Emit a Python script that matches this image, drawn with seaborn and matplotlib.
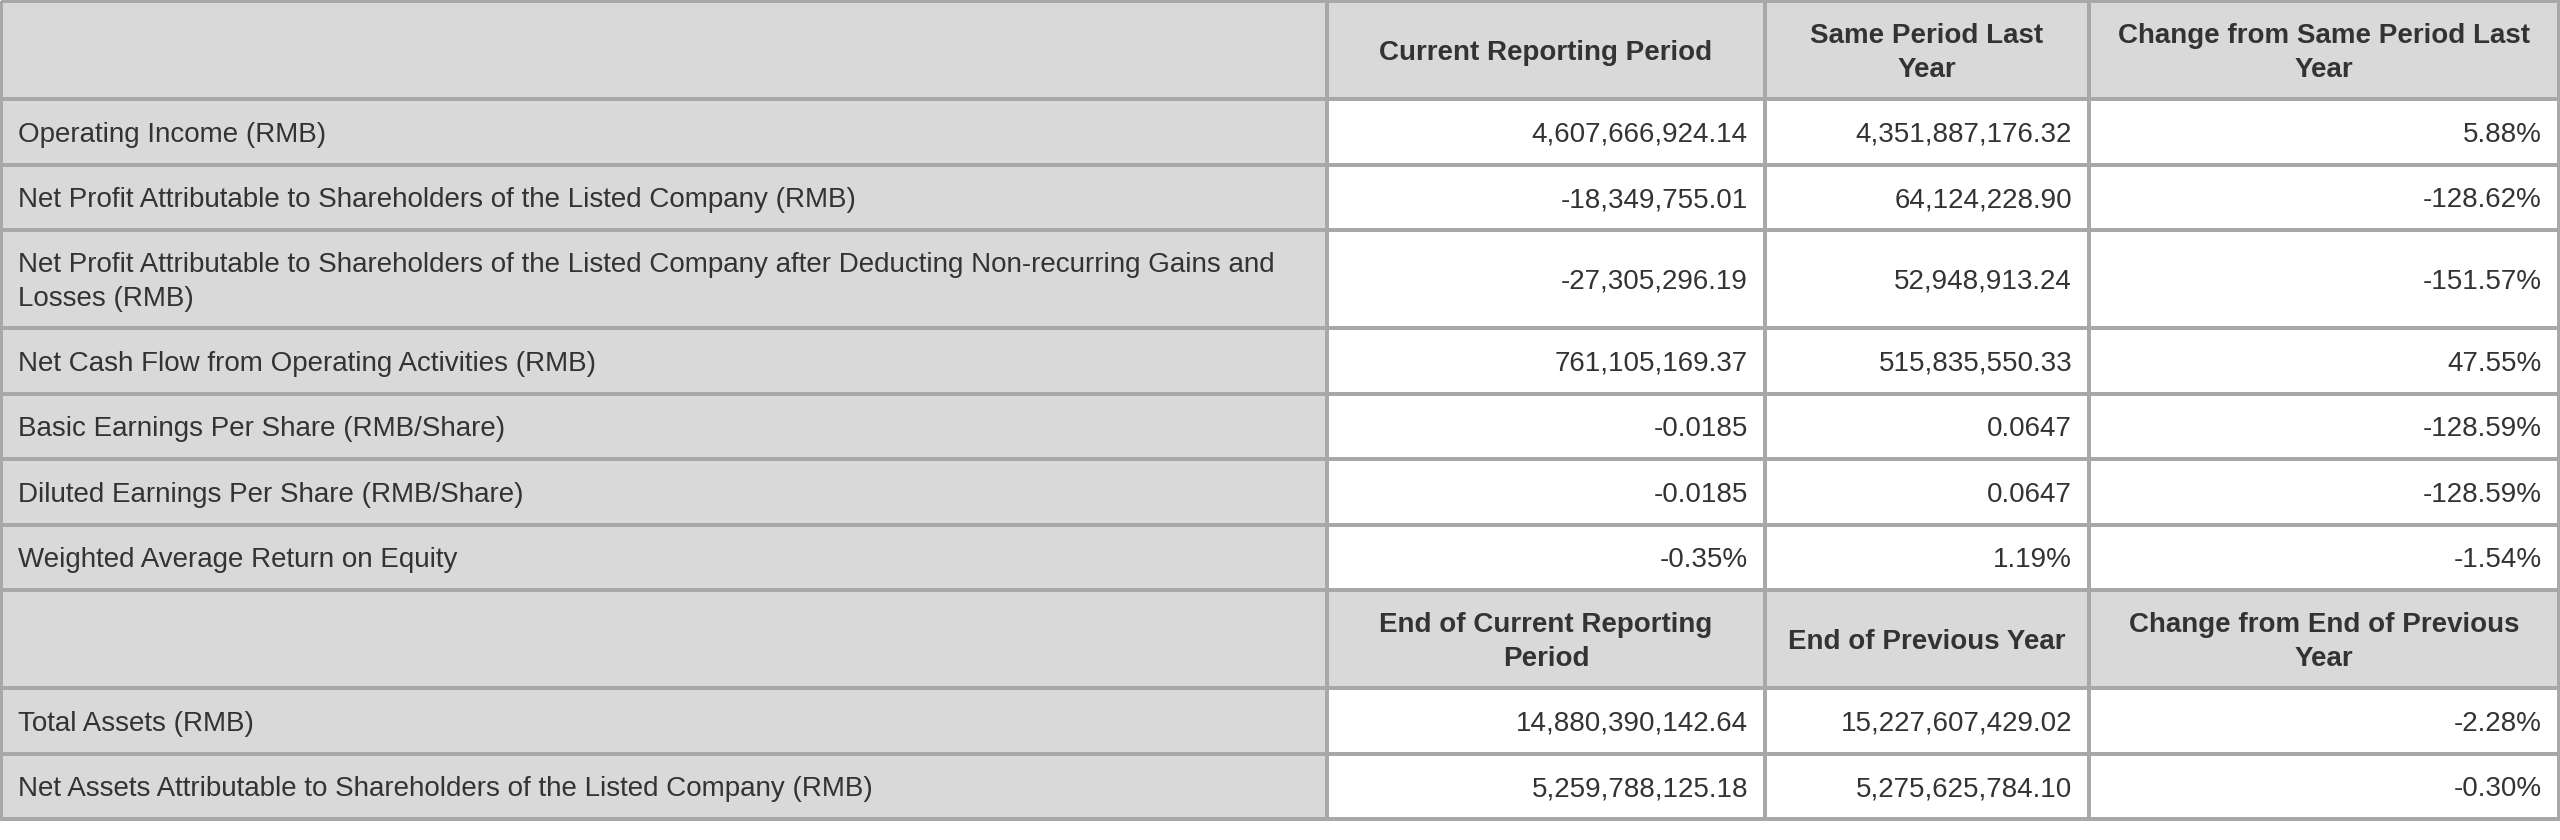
import numpy as np
import matplotlib
matplotlib.use("Agg")
import matplotlib.pyplot as plt
import seaborn as sns

# table content
header_top = ["", "Current Reporting Period", "Same Period Last\nYear", "Change from Same Period Last\nYear"]
header_mid = ["", "End of Current Reporting\nPeriod", "End of Previous Year", "Change from End of Previous\nYear"]

items_top = [
    "Operating Income (RMB)",
    "Net Profit Attributable to Shareholders of the Listed Company (RMB)",
    "Net Profit Attributable to Shareholders of the Listed Company after Deducting Non-recurring Gains and\nLosses (RMB)",
    "Net Cash Flow from Operating Activities (RMB)",
    "Basic Earnings Per Share (RMB/Share)",
    "Diluted Earnings Per Share (RMB/Share)",
    "Weighted Average Return on Equity",
]
current_top = ["4,607,666,924.14", "-18,349,755.01", "-27,305,296.19", "761,105,169.37", "-0.0185", "-0.0185", "-0.35%"]
last_year_top = ["4,351,887,176.32", "64,124,228.90", "52,948,913.24", "515,835,550.33", "0.0647", "0.0647", "1.19%"]
change_top = ["5.88%", "-128.62%", "-151.57%", "47.55%", "-128.59%", "-128.59%", "-1.54%"]

items_bottom = [
    "Total Assets (RMB)",
    "Net Assets Attributable to Shareholders of the Listed Company (RMB)",
]
current_bottom = ["14,880,390,142.64", "5,259,788,125.18"]
last_year_bottom = ["15,227,607,429.02", "5,275,625,784.10"]
change_bottom = ["-2.28%", "-0.30%"]

# build the table rows
rows = [header_top]
rows += [list(r) for r in zip(items_top, current_top, last_year_top, change_top)]
rows += [header_mid]
rows += [list(r) for r in zip(items_bottom, current_bottom, last_year_bottom, change_bottom)]
is_header = [r is header_top or r is header_mid for r in rows]

# layout (pixels)
col_widths = [1326, 438, 324, 470]
single_h, double_h = 65.5, 98
row_heights = [double_h if any("\n" in c for c in r) else single_h for r in rows]
x_edges = 1 + np.concatenate([[0], np.cumsum(col_widths)])
y_edges = 1 + np.concatenate([[0], np.cumsum(row_heights)])

# 0 -> grey cell, 1 -> white cell
cell_kind = np.ones((len(rows), len(col_widths)))
cell_kind[:, 0] = 0
cell_kind[np.array(is_header), :] = 0

sns.set_theme(style="white")
plt.rcParams["font.family"] = ["Liberation Sans", "DejaVu Sans"]

fig = plt.figure(figsize=(25.6, 8.4), dpi=100)
ax = fig.add_axes([0, 0, 1, 1])
cmap = matplotlib.colors.ListedColormap(["#d9d9d9", "#ffffff"])
ax.pcolormesh(x_edges, y_edges, cell_kind, cmap=cmap, vmin=0, vmax=1,
              edgecolors="#a8a8a8", linewidth=1.5)
ax.set_xlim(0, 2560)
ax.set_ylim(840, 0)
ax.axis("off")

txt_color = "#333333"
fs = 20
pad = 17
ls = 1.4
dy = 3
for i, row in enumerate(rows):
    yc = (y_edges[i] + y_edges[i + 1]) / 2 + dy
    for j, cell in enumerate(row):
        if not cell:
            continue
        if is_header[i]:
            xc = (x_edges[j] + x_edges[j + 1]) / 2
            ax.text(xc, yc, cell, ha="center", va="center", fontsize=fs,
                    fontweight="bold", color=txt_color, linespacing=ls,
                    multialignment="center")
        elif j == 0:
            ax.text(x_edges[j] + pad, yc, cell, ha="left", va="center",
                    fontsize=fs, color=txt_color, linespacing=ls)
        else:
            ax.text(x_edges[j + 1] - pad, yc, cell, ha="right", va="center",
                    fontsize=fs, color=txt_color)

fig.savefig("out.png", dpi=100, facecolor="white")
